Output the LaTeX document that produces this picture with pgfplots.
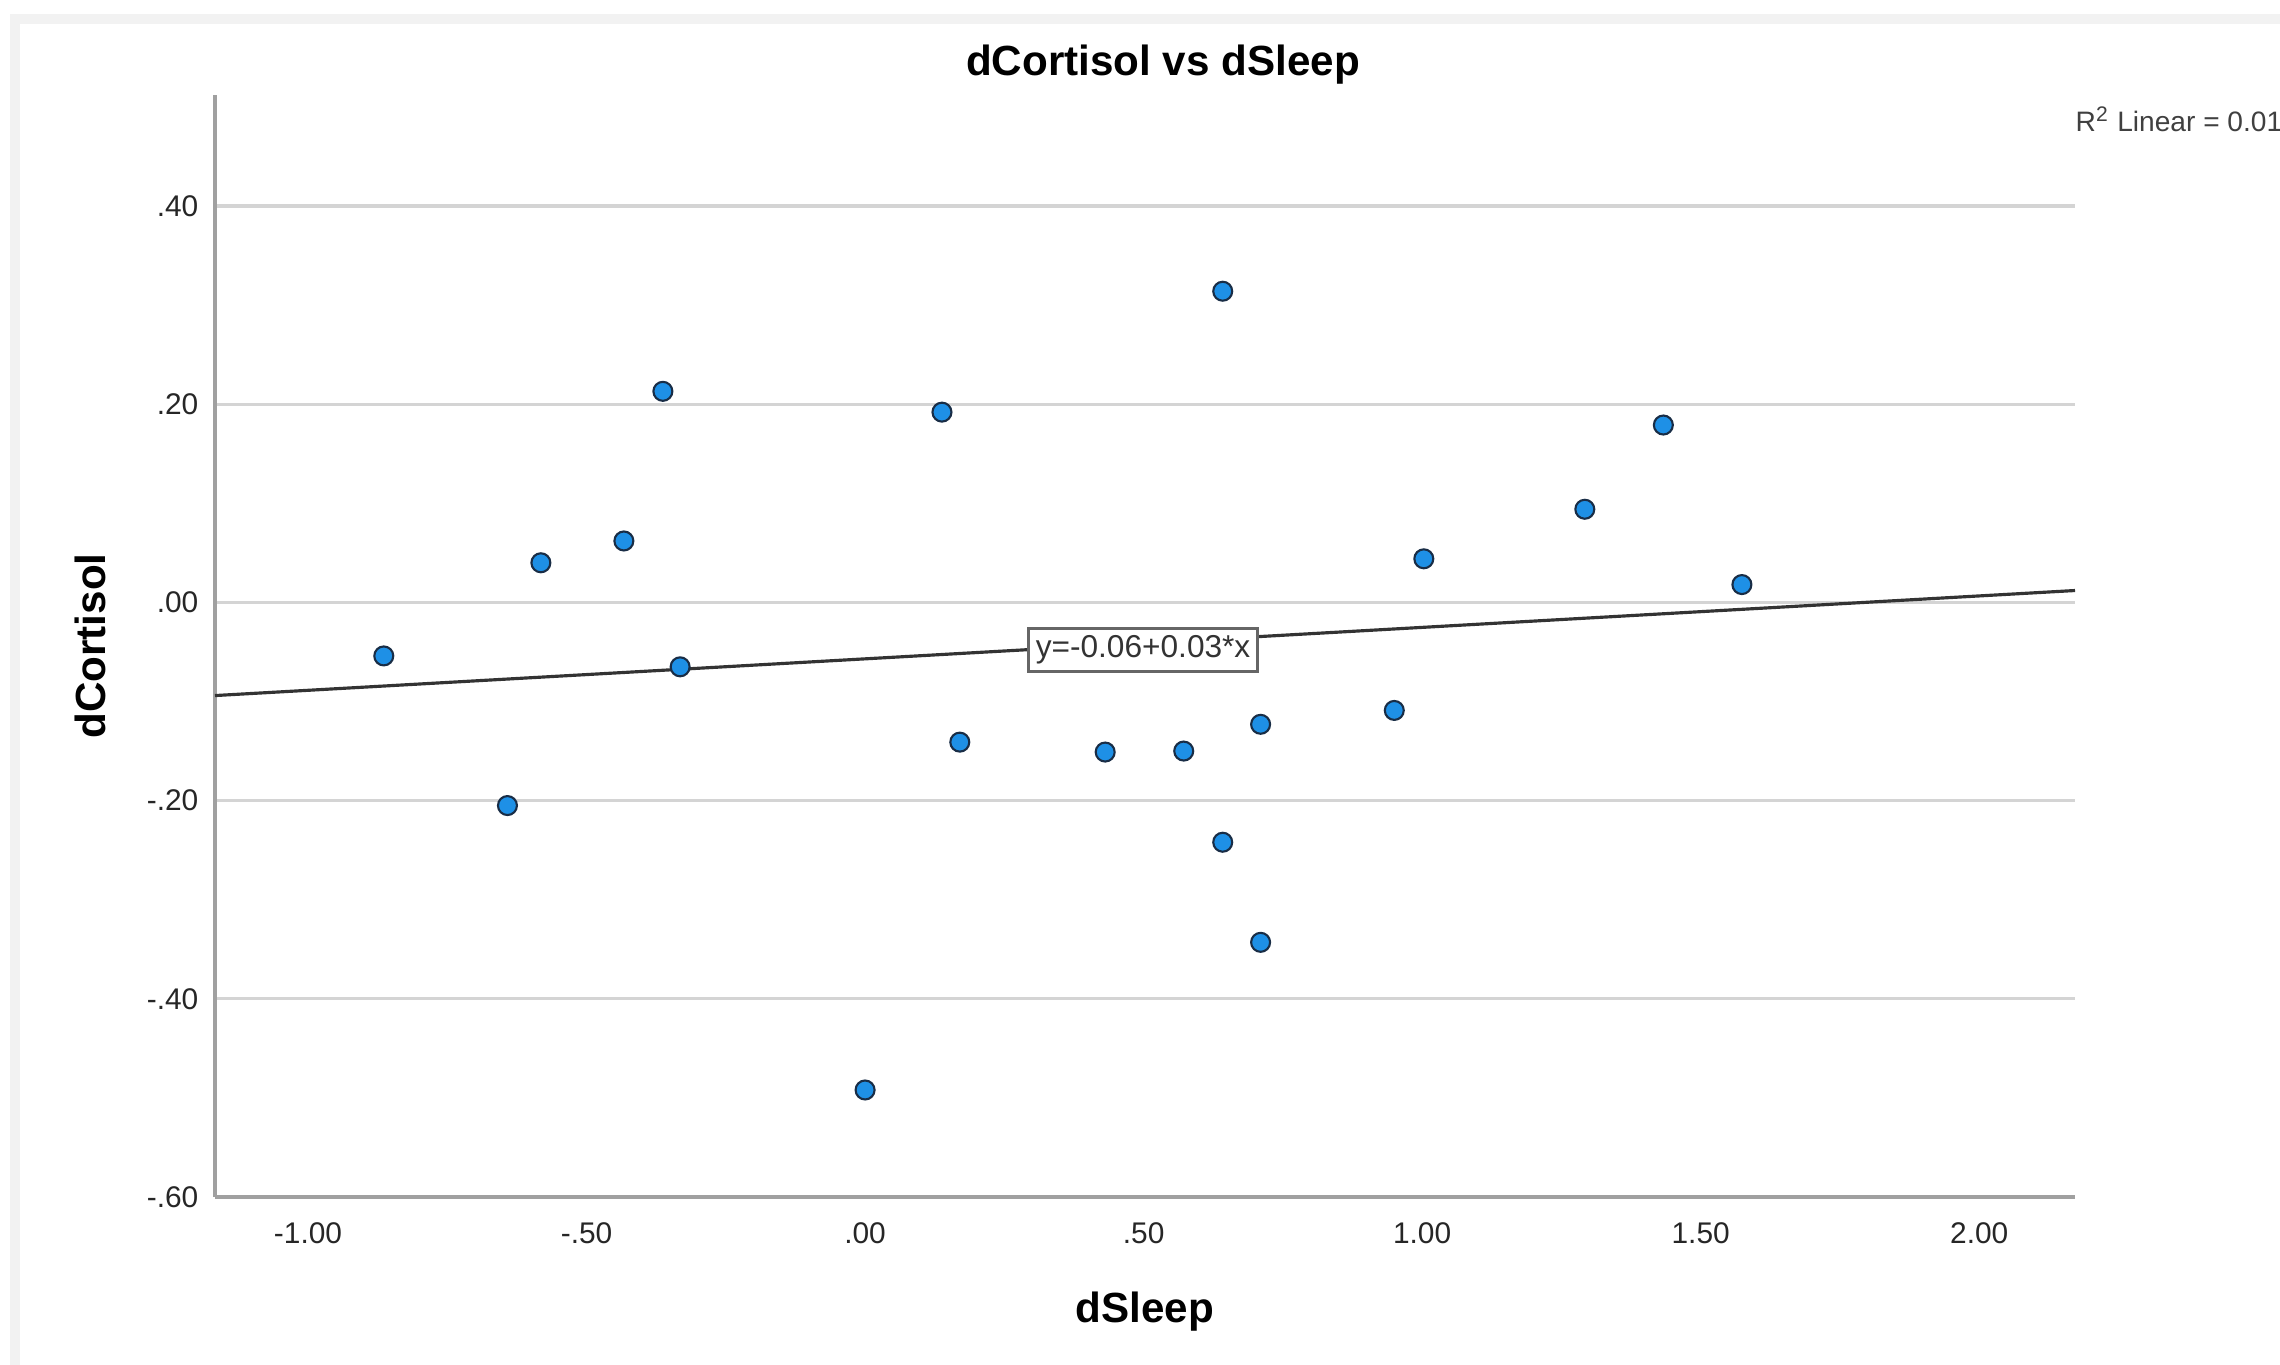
\documentclass[border=0pt]{standalone}
\usepackage{pgfplots}
\pgfplotsset{compat=1.18}
\usepackage{fontspec}
\setmainfont{Liberation Sans}
\definecolor{ptfill}{RGB}{30,144,230}
\definecolor{ptedge}{RGB}{25,45,70}
\definecolor{gridc}{RGB}{212,212,212}
\definecolor{axc}{RGB}{160,160,160}
\begin{document}
\begin{tikzpicture}
\path[use as bounding box, clip] (0,0) rectangle (22.8,13.64);
\draw[gray!10, line width=3pt] (0.15,-1) -- (0.15,13.45) -- (23,13.45);
\begin{axis}[
  at={(2.15cm,1.67cm)}, anchor=south west,
  scale only axis, width=18.6cm, height=11.02cm,
  xmin=-1.167, xmax=2.172, ymin=-0.6, ymax=0.512,
  axis x line*=bottom, axis y line*=left,
  axis line style={axc, line width=1pt},
  every inner x axis line/.append style={-}, every inner y axis line/.append style={-},
  xtick={-1,-0.5,0,0.5,1,1.5,2},
  xticklabels={-1.00,-.50,.00,.50,1.00,1.50,2.00},
  ytick={-0.6,-0.4,-0.2,0,0.2,0.4},
  yticklabels={-.60,-.40,-.20,.00,.20,.40},
  major tick length=0pt,
  ymajorgrids, major grid style={gridc, line width=0.9pt},
  tick label style={font=\fontsize{8.5}{10}\selectfont, text=black!85},
  xticklabel style={anchor=center, yshift=-0.36cm},
  yticklabel style={anchor=east, inner sep=0pt, xshift=-0.16cm},
  xlabel={dSleep}, ylabel={dCortisol},
  label style={font=\bfseries\fontsize{12}{14}\selectfont},
  xlabel style={at={(axis description cs:0.5,-0.1044)}, anchor=center},
  ylabel style={at={(axis description cs:-0.0672,0.5)}, anchor=center},
  title={dCortisol vs dSleep},
  every axis title shift=0pt,
  title style={at={(axis description cs:0.5097,1.0272)}, anchor=center, font=\bfseries\fontsize{12}{14}\selectfont},
  clip=false,
]
\addplot[black!80, line width=0.9pt] coordinates {(-1.167,-0.094) (2.172,0.012)};
\addplot[only marks, mark=*, mark size=2.7pt, mark options={fill=ptfill, draw=ptedge, line width=0.6pt}] coordinates {
(-0.864,-0.054)
(-0.642,-0.205)
(-0.582,0.040)
(-0.433,0.062)
(-0.363,0.213)
(-0.332,-0.065)
(0.000,-0.492)
(0.138,0.192)
(0.170,-0.141)
(0.431,-0.151)
(0.572,-0.150)
(0.642,0.314)
(0.642,-0.242)
(0.710,-0.123)
(0.710,-0.343)
(0.950,-0.109)
(1.003,0.044)
(1.292,0.094)
(1.433,0.179)
(1.574,0.018)
};
\node[draw=black!60, line width=0.8pt, fill=white, inner sep=2pt, font=\fontsize{9}{11}\selectfont, text=black!80] at (axis cs:0.499,-0.048) {y=-0.06+0.03*x};
\node[anchor=west, inner sep=0pt, font=\fontsize{8}{10}\selectfont, text=black!75] at (axis description cs:1.0,0.978) {R\textsuperscript{2} Linear = 0.013};
\end{axis}
\end{tikzpicture}
\end{document}
